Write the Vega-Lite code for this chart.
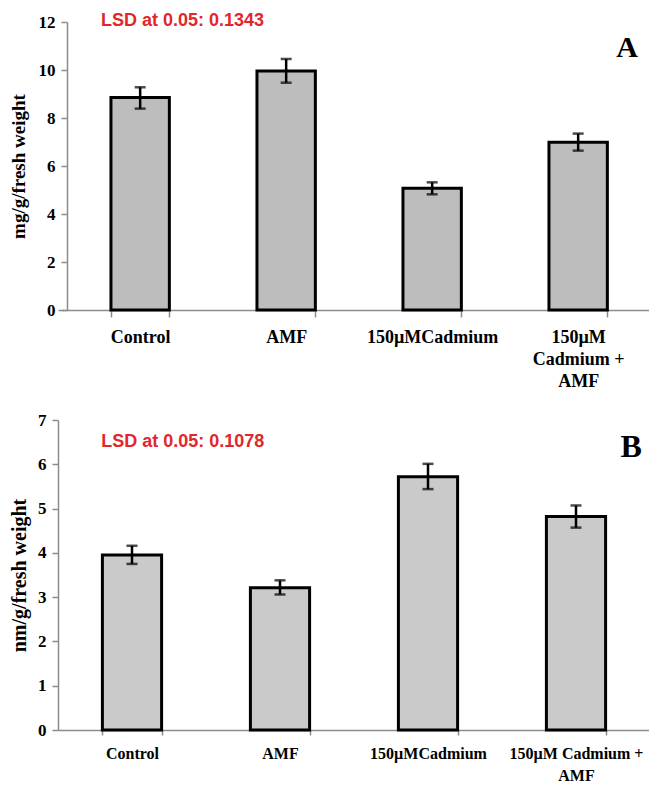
{
  "$schema": "https://vega.github.io/schema/vega-lite/v6.json",
  "padding": {"left": 9, "top": 11, "right": 0, "bottom": 0},
  "config": {"view": {"stroke": null}, "font": "Liberation Serif"},
  "datasets": {
    "A": [
      {"treatment": "Control", "value": 8.85, "lo": 8.39, "hi": 9.28},
      {"treatment": "AMF", "value": 9.96, "lo": 9.47, "hi": 10.46},
      {"treatment": "150µMCadmium", "value": 5.07, "lo": 4.82, "hi": 5.32},
      {"treatment": "150µM Cadmium + AMF", "value": 6.99, "lo": 6.64, "hi": 7.35}
    ],
    "B": [
      {"treatment": "Control", "value": 3.95, "lo": 3.75, "hi": 4.16},
      {"treatment": "AMF", "value": 3.21, "lo": 3.06, "hi": 3.38},
      {"treatment": "150µMCadmium", "value": 5.72, "lo": 5.44, "hi": 6.01},
      {"treatment": "150µM Cadmium + AMF", "value": 4.82, "lo": 4.57, "hi": 5.07}
    ]
  },
  "spacing": 21,
  "vconcat": [
    {
      "width": 592,
      "height": 288,
      "data": {"name": "A"},
      "encoding": {
        "x": {
          "field": "treatment", "type": "nominal", "sort": null,
          "scale": {"paddingInner": 0.6, "paddingOuter": 0.3274, "align": 0.554},
          "axis": {
            "title": null, "labelAngle": 0, "tickBand": "extent",
            "domainColor": "#8c8c8c", "domainWidth": 1.5, "tickColor": "#8c8c8c", "tickWidth": 1.5, "tickSize": 7,
            "labelFont": "Liberation Serif", "labelFontSize": 18, "labelFontWeight": "bold", "labelColor": "black",
            "labelPadding": 11, "labelLineHeight": 22,
            "labelExpr": "datum.value == '150µM Cadmium + AMF' ? ['150µM', 'Cadmium +', 'AMF'] : datum.label"
          }
        }
      },
      "layer": [
        {
          "mark": {"type": "bar", "fill": "#bdbdbd", "stroke": "black", "strokeWidth": 3},
          "encoding": {
            "y": {
              "field": "value", "type": "quantitative",
              "scale": {"domain": [0, 12]},
              "axis": {
                "title": "mg/g/fresh weight", "values": [0, 2, 4, 6, 8, 10, 12], "grid": false, "offset": -9,
                "domainColor": "#8c8c8c", "domainWidth": 1.5, "tickColor": "#8c8c8c", "tickWidth": 1.5, "tickSize": 6,
                "labelFont": "Liberation Serif", "labelFontSize": 17, "labelFontWeight": "bold", "labelColor": "black", "labelPadding": 6,
                "titleFont": "Liberation Serif", "titleFontSize": 19, "titleFontWeight": "bold", "titleColor": "black", "titlePadding": 10
              }
            }
          }
        },
        {
          "mark": {"type": "rule", "strokeWidth": 2.5, "color": "black"},
          "encoding": {"y": {"field": "lo", "type": "quantitative"}, "y2": {"field": "hi"}}
        },
        {
          "mark": {"type": "tick", "thickness": 2.5, "size": 11, "color": "black"},
          "encoding": {"y": {"field": "lo", "type": "quantitative"}}
        },
        {
          "mark": {"type": "tick", "thickness": 2.5, "size": 11, "color": "black"},
          "encoding": {"y": {"field": "hi", "type": "quantitative"}}
        },
        {
          "data": {"values": [{"label": "LSD at 0.05: 0.1343"}]},
          "mark": {"type": "text", "font": "Liberation Sans", "fontSize": 18, "fontWeight": "bold", "color": "#e3262b", "align": "left", "baseline": "middle"},
          "encoding": {
            "x": {"datum": "Control", "type": "nominal", "bandPosition": -0.17},
            "y": {"datum": 12.05, "type": "quantitative"},
            "text": {"field": "label"}
          }
        },
        {
          "data": {"values": [{"label": "A"}]},
          "mark": {"type": "text", "font": "Liberation Serif", "fontSize": 30, "fontWeight": "bold", "color": "black", "align": "center", "baseline": "middle"},
          "encoding": {
            "x": {"datum": "150µM Cadmium + AMF", "type": "nominal", "bandPosition": 1.336},
            "y": {"datum": 10.9, "type": "quantitative"},
            "text": {"field": "label"}
          }
        }
      ]
    },
    {
      "width": 592,
      "height": 310,
      "data": {"name": "B"},
      "encoding": {
        "x": {
          "field": "treatment", "type": "nominal", "sort": null,
          "scale": {"paddingInner": 0.6, "paddingOuter": 0.3},
          "axis": {
            "title": null, "labelAngle": 0, "tickBand": "extent",
            "domainColor": "#8c8c8c", "domainWidth": 1.5, "tickColor": "#8c8c8c", "tickWidth": 1.5, "tickSize": 5,
            "labelFont": "Liberation Serif", "labelFontSize": 16, "labelFontWeight": "bold", "labelColor": "black",
            "labelPadding": 10, "labelLineHeight": 22,
            "labelExpr": "datum.value == '150µM Cadmium + AMF' ? ['150µM Cadmium +', 'AMF'] : datum.label"
          }
        }
      },
      "layer": [
        {
          "mark": {"type": "bar", "fill": "#cacaca", "stroke": "black", "strokeWidth": 3},
          "encoding": {
            "y": {
              "field": "value", "type": "quantitative",
              "scale": {"domain": [0, 7]},
              "axis": {
                "title": "nm/g/fresh weight", "values": [0, 1, 2, 3, 4, 5, 6, 7], "grid": false,
                "domainColor": "#8c8c8c", "domainWidth": 1.5, "tickColor": "#8c8c8c", "tickWidth": 1.5, "tickSize": 6,
                "labelFont": "Liberation Serif", "labelFontSize": 17, "labelFontWeight": "bold", "labelColor": "black", "labelPadding": 6,
                "titleFont": "Liberation Serif", "titleFontSize": 20, "titleFontWeight": "bold", "titleColor": "black", "titlePadding": 8
              }
            }
          }
        },
        {
          "mark": {"type": "rule", "strokeWidth": 2.5, "color": "black"},
          "encoding": {"y": {"field": "lo", "type": "quantitative"}, "y2": {"field": "hi"}}
        },
        {
          "mark": {"type": "tick", "thickness": 2.5, "size": 11, "color": "black"},
          "encoding": {"y": {"field": "lo", "type": "quantitative"}}
        },
        {
          "mark": {"type": "tick", "thickness": 2.5, "size": 11, "color": "black"},
          "encoding": {"y": {"field": "hi", "type": "quantitative"}}
        },
        {
          "data": {"values": [{"label": "LSD at 0.05: 0.1078"}]},
          "mark": {"type": "text", "font": "Liberation Sans", "fontSize": 18, "fontWeight": "bold", "color": "#e3262b", "align": "left", "baseline": "middle"},
          "encoding": {
            "x": {"datum": "Control", "type": "nominal", "bandPosition": -0.02},
            "y": {"datum": 6.5, "type": "quantitative"},
            "text": {"field": "label"}
          }
        },
        {
          "data": {"values": [{"label": "B"}]},
          "mark": {"type": "text", "font": "Liberation Serif", "fontSize": 32, "fontWeight": "bold", "color": "black", "align": "center", "baseline": "middle"},
          "encoding": {
            "x": {"datum": "150µM Cadmium + AMF", "type": "nominal", "bandPosition": 1.43},
            "y": {"datum": 6.4, "type": "quantitative"},
            "text": {"field": "label"}
          }
        }
      ]
    }
  ]
}
